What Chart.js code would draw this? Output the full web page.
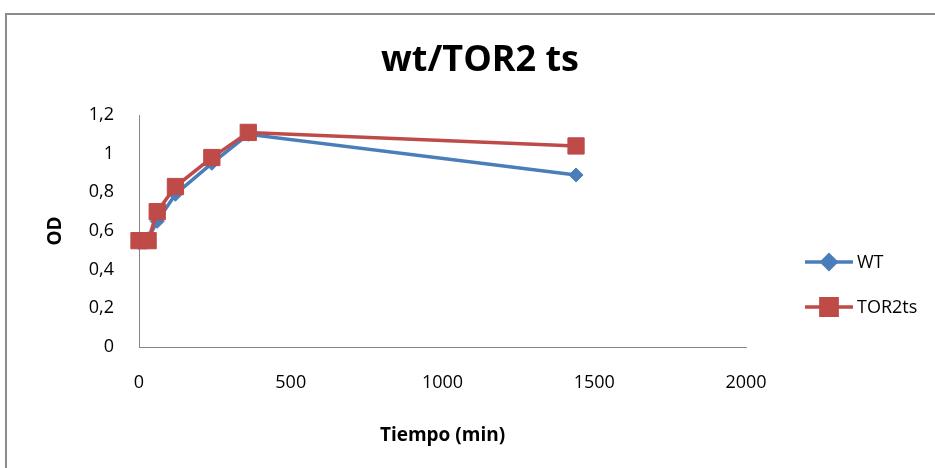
<!DOCTYPE html>
<html>
<head>
<meta charset="utf-8">
<title>wt/TOR2 ts</title>
<script src="https://cdn.jsdelivr.net/npm/chart.js@4.4.1/dist/chart.umd.min.js"></script>
<style>
  html, body { margin: 0; padding: 0; background: #fff; }
  .wrap { position: relative; width: 935px; height: 468px; overflow: hidden; }
  .frame {
    position: absolute; left: 5px; top: 13px; width: 1000px; height: 1000px;
    border-left: 2px solid #8c8c8c; border-top: 2px solid #8c8c8c;
  }
  canvas { position: absolute; left: 0; top: 0; }
</style>
</head>
<body>
<div class="wrap">
  <div class="frame"></div>
  <canvas id="odChart" width="935" height="468"></canvas>
</div>
<script>
// data
const tiempo = [0, 30, 60, 120, 240, 360, 1440];
const wtOD = [0.54, 0.56, 0.65, 0.79, 0.95, 1.10, 0.89];
const tor2OD = [0.55, 0.55, 0.70, 0.83, 0.98, 1.11, 1.04];
const xTicks = [0, 500, 1000, 1500, 2000];
const yTicks = [0, 0.2, 0.4, 0.6, 0.8, 1, 1.2];

const FONT = '"Open Sans", "Noto Sans", "Liberation Sans", sans-serif';

function toPoints(xs, ys) {
  return xs.map((x, i) => ({ x: x, y: ys[i] }));
}

// title + legend drawn by hand so they sit where the original has them
const extras = {
  id: 'extras',
  afterDraw(chart) {
    const ctx = chart.ctx;
    ctx.save();
    ctx.fillStyle = '#000';
    ctx.font = 'bold 36px ' + FONT;
    ctx.textAlign = 'center';
    ctx.textBaseline = 'middle';
    ctx.fillText('wt/TOR2 ts', 480, 61);

    const rows = [262, 307];
    chart.data.datasets.forEach((ds, i) => {
      const y = rows[i];
      ctx.strokeStyle = ds.borderColor;
      ctx.lineWidth = ds.borderWidth;
      ctx.beginPath();
      ctx.moveTo(805, y);
      ctx.lineTo(853, y);
      ctx.stroke();
      Chart.helpers.drawPoint(ctx, {
        pointStyle: ds.pointStyle,
        radius: ds.legendRadius,
        borderWidth: 1
      }, 829, y);
      ctx.fillStyle = ds.backgroundColor;
      ctx.fill();
      ctx.fillStyle = '#000';
      ctx.font = '18px ' + FONT;
      ctx.textAlign = 'left';
      ctx.fillText(ds.label, 857, y + 1);
    });
    ctx.restore();
  }
};

new Chart(document.getElementById('odChart'), {
  type: 'line',
  data: {
    datasets: [
      {
        label: 'WT',
        data: toPoints(tiempo, wtOD),
        borderColor: '#4a7ebb',
        backgroundColor: '#4a7ebb',
        borderWidth: 3.5,
        pointStyle: 'rectRot',
        pointRadius: 7,
        legendRadius: 7,
        pointBorderWidth: 1,
        clip: false,
        order: 1
      },
      {
        label: 'TOR2ts',
        data: toPoints(tiempo, tor2OD),
        borderColor: '#be4b48',
        backgroundColor: '#be4b48',
        borderWidth: 3.5,
        pointStyle: 'rect',
        pointRadius: 11.5,
        legendRadius: 11.5,
        pointBorderWidth: 1,
        clip: false,
        order: 0
      }
    ]
  },
  options: {
    responsive: false,
    devicePixelRatio: 1,
    animation: false,
    layout: { padding: { left: 40, top: 115, right: 189, bottom: 0 } },
    plugins: {
      legend: { display: false },
      title: { display: false },
      tooltip: { enabled: false }
    },
    scales: {
      x: {
        type: 'linear',
        min: 0,
        max: 2000,
        afterBuildTicks: (scale) => { scale.ticks = xTicks.map(v => ({ value: v })); },
        afterFit: (scale) => { scale.height = 121; },
        grid: { display: false, drawTicks: false },
        border: { display: true, color: '#868686', width: 1 },
        ticks: {
          color: '#000',
          padding: 25,
          font: { family: FONT, size: 18 },
          callback: (v) => String(v)
        },
        title: {
          display: true,
          text: 'Tiempo (min)',
          color: '#000',
          padding: { top: 21, bottom: 21 },
          font: { family: FONT, size: 19, weight: 'bold' }
        }
      },
      y: {
        min: 0,
        max: 1.2,
        afterBuildTicks: (scale) => { scale.ticks = yTicks.map(v => ({ value: v })); },
        afterFit: (scale) => { scale.width = 99; },
        grid: { display: false, drawTicks: false },
        border: { display: true, color: '#868686', width: 1 },
        ticks: {
          color: '#000',
          padding: 25,
          font: { family: FONT, size: 18 },
          callback: (v) => String(Math.round(v * 10) / 10).replace('.', ',')
        },
        title: {
          display: true,
          text: 'OD',
          color: '#000',
          padding: { top: 4, bottom: 4 },
          font: { family: FONT, size: 19, weight: 'bold' }
        }
      }
    }
  },
  plugins: [extras]
});
</script>
</body>
</html>
